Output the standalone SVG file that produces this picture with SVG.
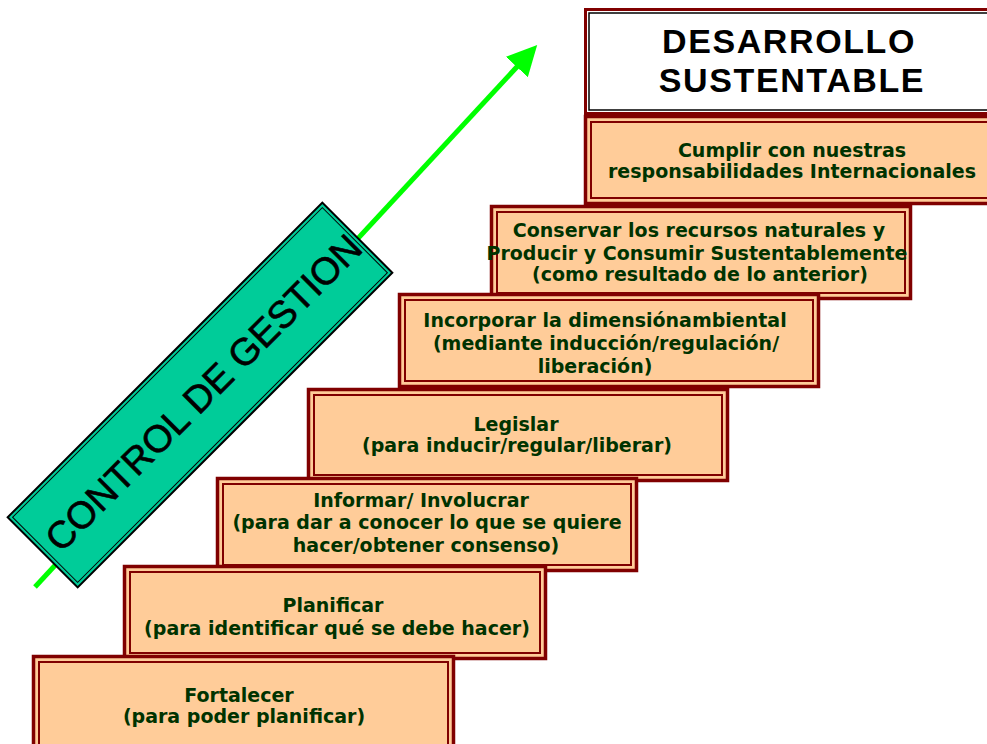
<svg xmlns="http://www.w3.org/2000/svg" width="987" height="744" viewBox="0 0 987 744">
<style>
.bg{fill:#FFFFFF}
.outer{fill:#FFCC99;stroke:#800000;stroke-width:3.5}
.inner{fill:none;stroke:#800000;stroke-width:2}
.t{font-family:"DejaVu Sans",Verdana,sans-serif;font-weight:bold;font-size:19px;fill:#003300;text-anchor:middle}
.title{font-family:"Liberation Sans",Arial,sans-serif;font-weight:bold;font-size:34px;fill:#000000;text-anchor:middle;letter-spacing:1.6px}
.ctl{font-family:"Liberation Sans",Arial,sans-serif;font-size:38px;fill:#000000;stroke:#000000;stroke-width:0.6;text-anchor:middle}
</style>
<defs>
<marker id="ah" markerWidth="6" markerHeight="6" refX="3" refY="3" orient="auto" markerUnits="strokeWidth">
<path d="M0,0 L6,3 L0,6 z" fill="#00FF00"/>
</marker>
</defs>
<rect class="bg" x="0" y="0" width="987" height="744"/>

<g id="connectors">
<line x1="35" y1="587" x2="527" y2="56" stroke="#00FF00" stroke-width="5" marker-end="url(#ah)"/>
</g>

<g id="control-gestion" transform="rotate(-45 200 395)">
<rect x="-22.5" y="345.5" width="445" height="99" fill="#00CC99" stroke="#000000" stroke-width="2"/>
<rect x="-19" y="349" width="438" height="92" fill="none" stroke="#000000" stroke-width="1"/>
<text class="ctl" x="204" y="409">CONTROL DE GESTION</text>
</g>

<g id="desarrollo">
<rect x="585.5" y="9.5" width="420" height="104" fill="#FFFFFF" stroke="#800000" stroke-width="3"/>
<rect x="589" y="13" width="413" height="97" fill="none" stroke="#000000" stroke-width="1.5"/>
<text class="title" x="789" y="53">DESARROLLO</text>
<text class="title" x="792" y="92">SUSTENTABLE</text>
</g>

<g id="cumplir">
<rect class="outer" x="585.5" y="116.5" width="420" height="87"/>
<rect class="inner" x="591" y="122" width="409" height="76"/>
<text class="t" x="792" y="157">Cumplir con nuestras</text>
<text class="t" x="792" y="178">responsabilidades Internacionales</text>
</g>

<g id="conservar">
<rect class="outer" x="491.5" y="206.5" width="419" height="92"/>
<rect class="inner" x="497" y="212" width="408" height="81"/>
<text class="t" x="699" y="237">Conservar los recursos naturales y</text>
<text class="t" x="697" y="260">Producir y Consumir Sustentablemente</text>
<text class="t" x="700" y="281">(como resultado de lo anterior)</text>
</g>

<g id="incorporar">
<rect class="outer" x="399.5" y="294.5" width="419" height="92"/>
<rect class="inner" x="405" y="300" width="408" height="81"/>
<text class="t" x="605" y="327">Incorporar la dimensiónambiental</text>
<text class="t" x="606" y="350">(mediante inducción/regulación/</text>
<text class="t" x="595" y="373">liberación)</text>
</g>

<g id="legislar">
<rect class="outer" x="308.5" y="389.5" width="419" height="91"/>
<rect class="inner" x="314" y="395" width="408" height="80"/>
<text class="t" x="516" y="431">Legislar</text>
<text class="t" x="517" y="452">(para inducir/regular/liberar)</text>
</g>

<g id="informar">
<rect class="outer" x="217.5" y="478.5" width="419" height="92"/>
<rect class="inner" x="223" y="484" width="408" height="81"/>
<text class="t" x="421" y="507">Informar/ Involucrar</text>
<text class="t" x="427" y="529">(para dar a conocer lo que se quiere</text>
<text class="t" x="426" y="552">hacer/obtener consenso)</text>
</g>

<g id="planificar">
<rect class="outer" x="124.5" y="566.5" width="421" height="92"/>
<rect class="inner" x="130" y="572" width="410" height="81"/>
<text class="t" x="333" y="612">Planificar</text>
<text class="t" x="337" y="635">(para identificar qué se debe hacer)</text>
</g>

<g id="fortalecer">
<rect class="outer" x="33.5" y="656.5" width="420" height="100"/>
<rect class="inner" x="39" y="662" width="409" height="100"/>
<text class="t" x="239" y="702">Fortalecer</text>
<text class="t" x="244" y="723">(para poder planificar)</text>
</g>
</svg>
